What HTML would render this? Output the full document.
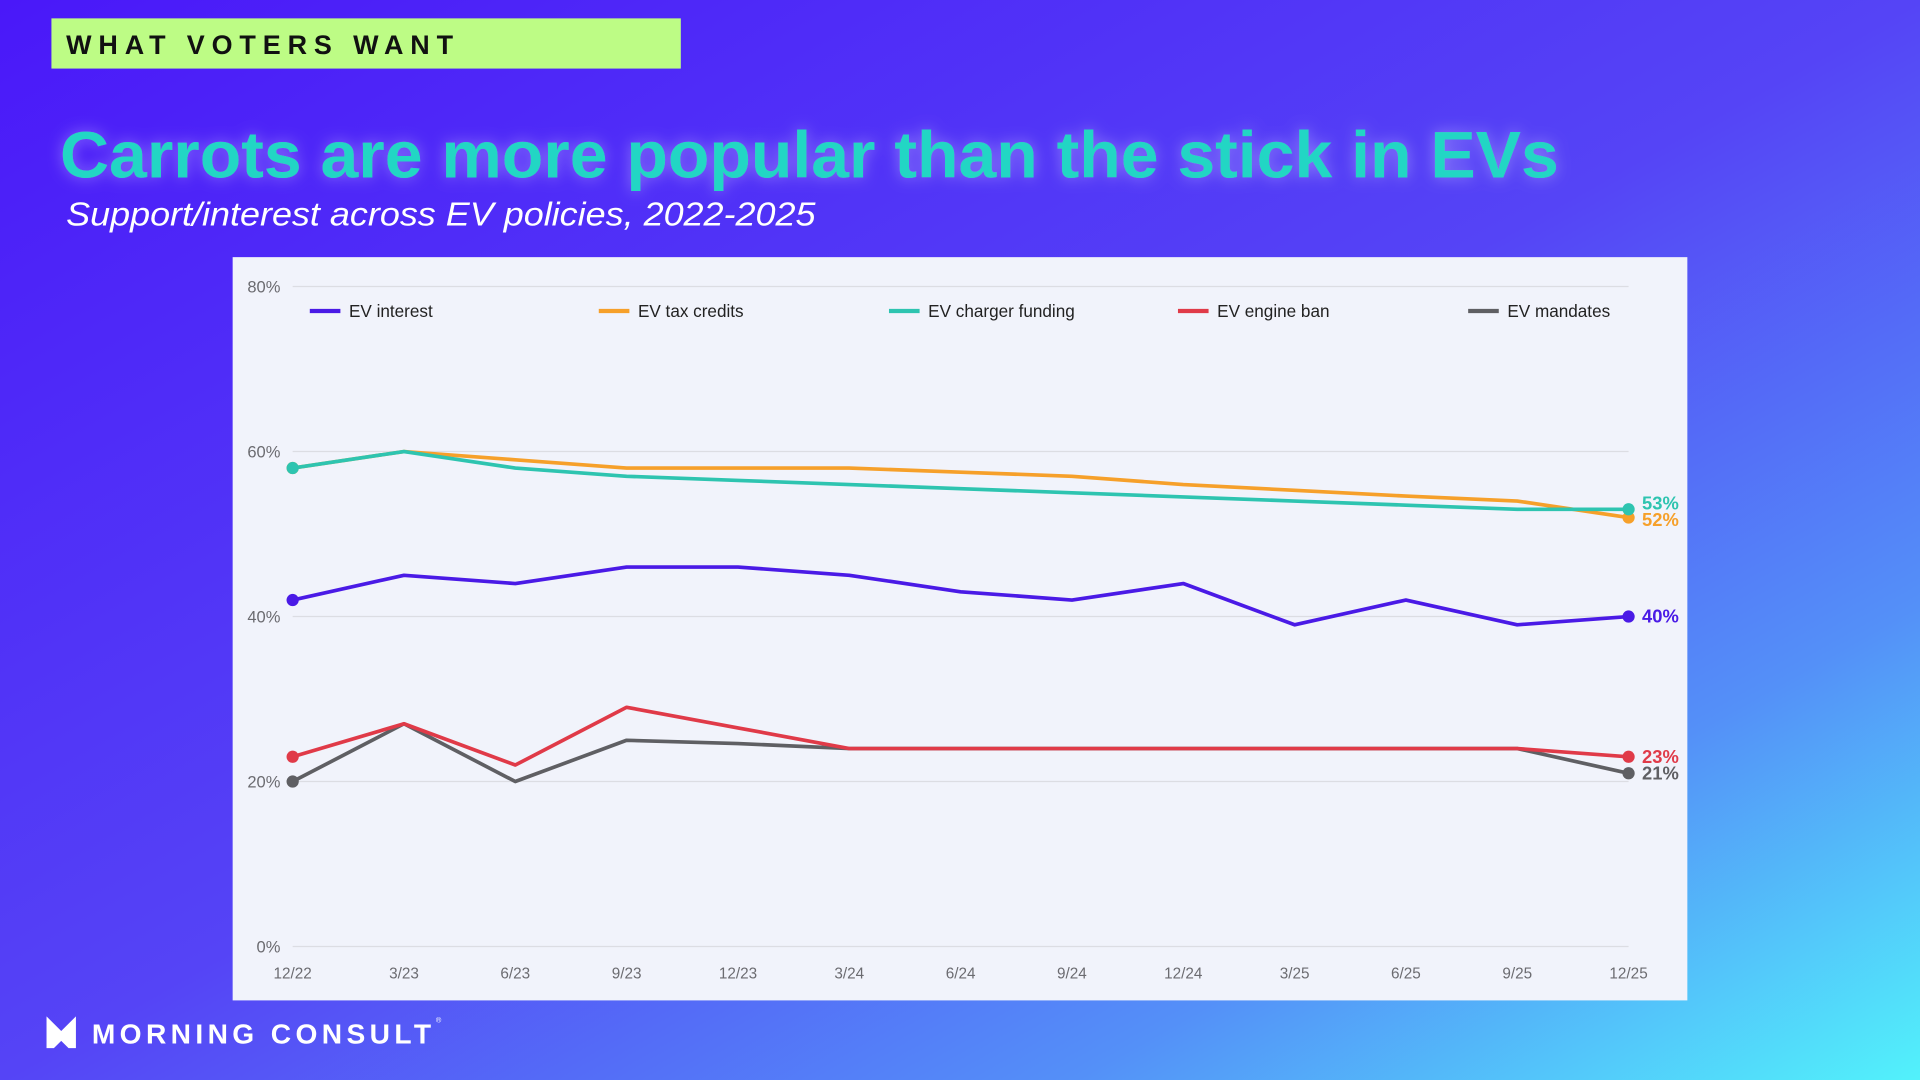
<!DOCTYPE html>
<html><head><meta charset="utf-8"><style>
html,body{margin:0;padding:0;width:1920px;height:1080px;overflow:hidden}
svg{display:block}
</style></head><body>
<svg width="1920" height="1080" viewBox="0 0 1568 882" xmlns="http://www.w3.org/2000/svg">
<defs>
<linearGradient id="bg" x1="0" y1="0" x2="1" y2="1">
<stop offset="0" stop-color="#4a18f9"/><stop offset="0.5" stop-color="#5544f6"/><stop offset="0.78" stop-color="#5490f8"/><stop offset="1" stop-color="#52f2fb"/>
</linearGradient>
<filter id="glow" x="-5%" y="-30%" width="110%" height="160%"><feGaussianBlur stdDeviation="6" result="b"/><feFlood flood-color="#ffffff" flood-opacity="0.35"/><feComposite in2="b" operator="in"/><feMerge><feMergeNode/><feMergeNode in="SourceGraphic"/></feMerge></filter>
</defs>
<rect width="1568" height="882" fill="url(#bg)"/>
<rect x="42" y="15" width="514" height="41" fill="#bdfc85"/>
<text x="54" y="44" font-family="Liberation Sans, sans-serif" font-weight="bold" font-size="22" textLength="316" lengthAdjust="spacing" fill="#111">WHAT VOTERS WANT</text>
<text x="49" y="145" font-family="Liberation Sans, sans-serif" font-weight="bold" font-size="54" fill="#22d6c4" textLength="1224" lengthAdjust="spacingAndGlyphs" filter="url(#glow)">Carrots are more popular than the stick in EVs</text>
<text x="54" y="184" font-family="Liberation Sans, sans-serif" font-style="italic" font-size="27" fill="#ffffff" textLength="612" lengthAdjust="spacingAndGlyphs">Support/interest across EV policies, 2022-2025</text>
<rect x="190" y="210" width="1188" height="607" fill="#f1f3fb"/>
<g id="grid"></g><g id="legend"></g><g id="series"></g>
<g>
<path d="M38 830 L50 842 L62 830 L62 856 L56 856 L50 850 L44 856 L38 856 Z" fill="#fff"/>
<text x="75" y="852" font-family="Liberation Sans, sans-serif" font-weight="bold" font-size="23" textLength="277" lengthAdjust="spacing" fill="#fff">MORNING CONSULT</text>
<text x="356" y="835" font-family="Liberation Sans, sans-serif" font-size="6" fill="#fff">®</text>
</g>
</svg>
<script>
const categories = ["12/22","3/23","6/23","9/23","12/23","3/24","6/24","9/24","12/24","3/25","6/25","9/25","12/25"];
const yTicks = [0,20,40,60,80];
const seriesNames = ["EV interest","EV tax credits","EV charger funding","EV engine ban","EV mandates"];
const seriesColors = ["#4a1ae6","#f6a02a","#2ec4b0","#e03a48","#5f5f63"];
const evInterest = [42,45,44,46,46,45,43,42,44,39,42,39,40];
const evTaxCredits = [58,60,59,58,58,58,57.5,57,56,55.3,54.6,54,52];
const evChargerFunding = [58,60,58,57,56.5,56,55.5,55,54.5,54,53.5,53,53];
const evEngineBan = [23,27,22,29,26.5,24,24,24,24,24,24,24,23];
const evMandates = [20,27,20,25,24.6,24,24,24,24,24,24,24,21];
const endLabels = ["40%","52%","53%","23%","21%"];

const NS="http://www.w3.org/2000/svg";
const x0=239,x1=1330,yTop=234,yBot=773;
const xs=i=>x0+(x1-x0)*i/(categories.length-1);
const ys=v=>yBot-(yBot-yTop)*v/80;
function mk(tag,attrs,parent,txt){const e=document.createElementNS(NS,tag);for(const k in attrs)e.setAttribute(k,attrs[k]);if(txt!==undefined)e.textContent=txt;parent.appendChild(e);return e;}
const grid=document.getElementById('grid');
yTicks.forEach(t=>{
  const l=mk('line',{x1:x0,x2:x1,y1:ys(t),y2:ys(t),stroke:'#dcdde3','stroke-width':1},grid);
  
  
  const tx=mk('text',{x:229,y:ys(t)+5,'text-anchor':'end','font-family':'Liberation Sans, sans-serif','font-size':13.5,fill:'#6b6b70'},grid,t+'%');
  
  
});
categories.forEach((c,i)=>{
  const tx=mk('text',{x:xs(i),y:799,'text-anchor':'middle','font-family':'Liberation Sans, sans-serif','font-size':12.5,fill:'#6b6b70'},grid,c);
  
  
});
const legend=document.getElementById('legend');
const lx=[253,489,726,962,1199];
seriesNames.forEach((n,i)=>{
  const g=mk('g',{},legend);
  
  
  mk('line',{x1:lx[i],x2:lx[i]+25,y1:254,y2:254,stroke:seriesColors[i],'stroke-width':3.5},g);
  mk('text',{x:lx[i]+32,y:259,'font-family':'Liberation Sans, sans-serif','font-size':14,fill:'#222'},g,n);
});
const data=[evInterest,evTaxCredits,evChargerFunding,evEngineBan,evMandates];
const order=[4,3,0,1,2];
const lblOff=[5,7,0,5,5];
const sg=document.getElementById('series');
order.forEach(k=>{
  const d=data[k];
  const g=mk('g',{},sg);
  
  
  const p=mk('polyline',{points:d.map((v,i)=>xs(i)+','+ys(v)).join(' '),fill:'none',stroke:seriesColors[k],'stroke-width':3,'stroke-linejoin':'round'},g);
  
  
  [0,d.length-1].forEach(i=>{
    const c=mk('circle',{cx:xs(i),cy:ys(d[i]),r:5,fill:seriesColors[k]},g);
    
    
  });
  const t=mk('text',{x:1341,y:ys(d[d.length-1])+lblOff[k],'font-family':'Liberation Sans, sans-serif','font-weight':'bold','font-size':15,fill:seriesColors[k]},g,endLabels[k]);
  
  
});
</script>
</body></html>
